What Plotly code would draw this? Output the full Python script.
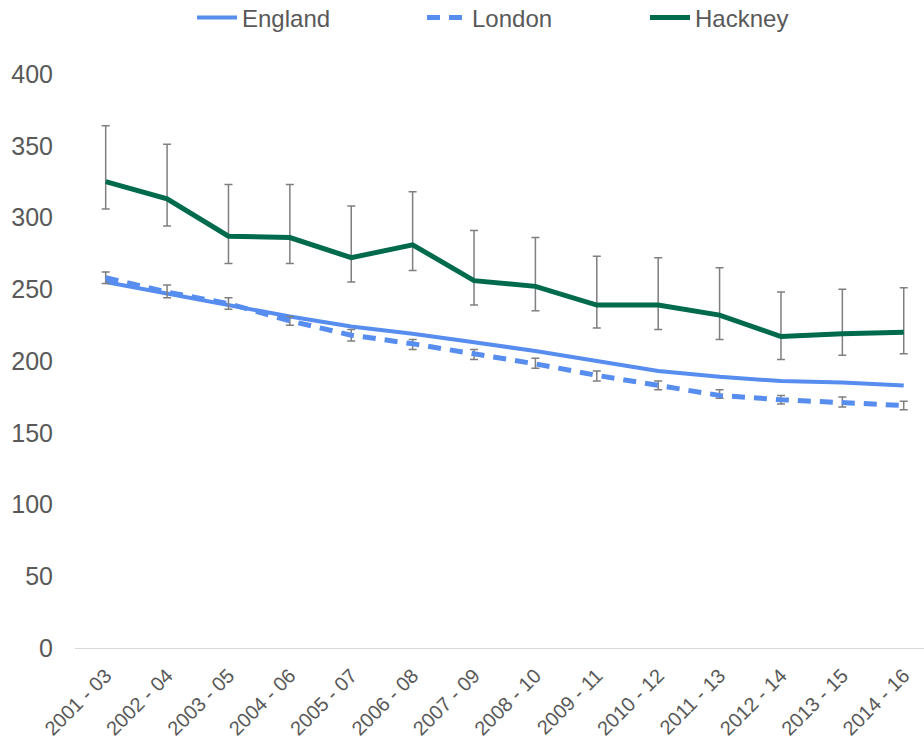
import plotly.graph_objects as go

categories = ["2001 - 03", "2002 - 04", "2003 - 05", "2004 - 06", "2005 - 07",
              "2006 - 08", "2007 - 09", "2008 - 10", "2009 - 11", "2010 - 12",
              "2011 - 13", "2012 - 14", "2013 - 15", "2014 - 16"]

england = [255, 247, 239, 231, 224, 219, 213, 207, 200, 193, 189, 186, 185, 183]

london = [258, 248, 240, 228, 218, 212, 205, 198, 190, 183, 176, 173, 171, 169]
london_upper = [262, 253, 244, 231, 222, 215, 208, 202, 193, 186, 180, 176, 175, 172]
london_lower = [254, 244, 236, 225, 214, 208, 201, 195, 186, 180, 174, 170, 168, 166]

hackney = [325, 313, 287, 286, 272, 281, 256, 252, 239, 239, 232, 217, 219, 220]
hackney_upper = [364, 351, 323, 323, 308, 318, 291, 286, 273, 272, 265, 248, 250, 251]
hackney_lower = [306, 294, 268, 268, 255, 263, 239, 235, 223, 222, 215, 201, 204, 205]

y_ticks = [0, 50, 100, 150, 200, 250, 300, 350, 400]

BLUE = "#588DF0"
GREEN = "#006B4C"
ERR = "#7F7F7F"
TEXT = "#595959"
FONT = "Liberation Sans, Arial, sans-serif"

x_idx = list(range(len(categories)))

fig = go.Figure()

fig.add_trace(go.Scatter(
    x=x_idx, y=england, name="England", mode="lines",
    line=dict(color=BLUE, width=4), legend="legend",
))

fig.add_trace(go.Scatter(
    x=x_idx, y=london, name="London", mode="lines",
    line=dict(color=BLUE, width=5, dash="13px,9px"), legend="legend2",
    error_y=dict(type="data", symmetric=False,
                 array=[u - v for u, v in zip(london_upper, london)],
                 arrayminus=[v - l for v, l in zip(london, london_lower)],
                 color=ERR, thickness=1.5, width=4),
))

fig.add_trace(go.Scatter(
    x=x_idx, y=hackney, name="Hackney", mode="lines",
    line=dict(color=GREEN, width=5), legend="legend3",
    error_y=dict(type="data", symmetric=False,
                 array=[u - v for u, v in zip(hackney_upper, hackney)],
                 arrayminus=[v - l for v, l in zip(hackney, hackney_lower)],
                 color=ERR, thickness=1.5, width=4),
))


def legend_at(px):
    return dict(
        orientation="h", x=(px - 8) / 924, xanchor="left", xref="container",
        y=0.976, yanchor="middle", yref="container",
        font=dict(size=24, color=TEXT, family=FONT),
        itemwidth=40, bgcolor="rgba(0,0,0,0)",
    )


fig.update_layout(
    width=924, height=744,
    margin=dict(l=75, r=0, t=74, b=96, autoexpand=False),
    paper_bgcolor="white", plot_bgcolor="white",
    font=dict(family=FONT, color=TEXT),
    showlegend=True,
    legend=legend_at(200),
    legend2=legend_at(430),
    legend3=legend_at(653),
    xaxis=dict(
        tickmode="array", tickvals=x_idx, ticktext=categories,
        range=[-0.5, 13.33], tickangle=-45,
        tickfont=dict(size=20, color=TEXT, family=FONT),
        showgrid=False, zeroline=False,
        showline=True, linecolor="#D9D9D9", linewidth=1,
        ticks="", fixedrange=True, ticklabelstandoff=7, automargin=False,
    ),
    yaxis=dict(
        range=[0, 400], tickmode="array", tickvals=y_ticks,
        tickfont=dict(size=25, color=TEXT, family=FONT),
        showgrid=False, zeroline=False, showline=False,
        ticks="", ticklabelstandoff=21, automargin=False,
    ),
)

fig.write_html("out.html")
